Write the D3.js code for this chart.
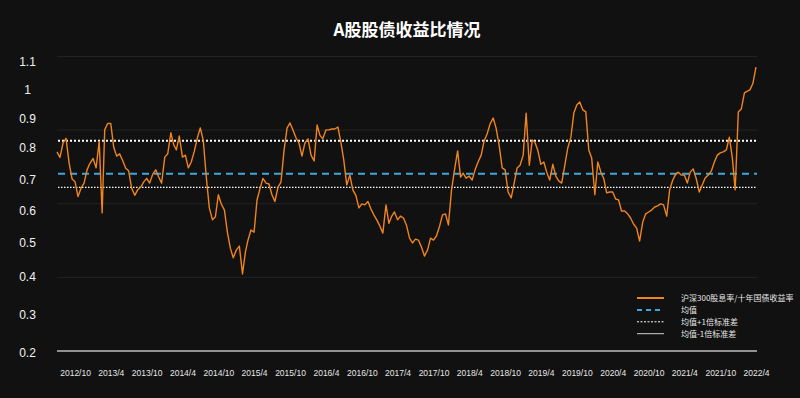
<!DOCTYPE html>
<html lang="zh">
<head>
<meta charset="UTF-8">
<title>A股股债收益比情况</title>
<script src="https://d3js.org/d3.v7.min.js"></script>
<style>
  body { margin: 0; background: #111111; }
  svg { display: block; font-family: "Noto Sans CJK SC", "Noto Sans", sans-serif; }
  .grid line { stroke: #232323; stroke-width: 1; }
  .xaxis text { fill: #e6e6e6; font-size: 8.5px; }
  .yaxis text { fill: #f2f2f2; font-size: 12px; }
  .legend text { fill: #e6e6e6; font-size: 8px; }
</style>
</head>
<body>
<svg id="chart" width="800" height="398"></svg>
<script>
// ---- data (semi-monthly, Jul 2012 .. Apr 2022) ----
const seriesName = "沪深300股息率/十年国债收益率";
const ratio = [
  0.786, 0.769, 0.815, 0.831, 0.751, 0.703, 0.694, 0.646, 0.674, 0.690, 0.731, 0.751,
  0.766, 0.737, 0.820, 0.593, 0.860, 0.882, 0.882, 0.800, 0.773, 0.780, 0.759, 0.736,
  0.728, 0.674, 0.650, 0.668, 0.677, 0.694, 0.705, 0.690, 0.718, 0.731, 0.709, 0.690,
  0.770, 0.780, 0.850, 0.808, 0.792, 0.839, 0.770, 0.776, 0.737, 0.755, 0.789, 0.832,
  0.867, 0.825, 0.706, 0.609, 0.571, 0.581, 0.652, 0.622, 0.602, 0.532, 0.483, 0.455,
  0.478, 0.489, 0.408, 0.472, 0.507, 0.539, 0.532, 0.635, 0.671, 0.705, 0.690, 0.687,
  0.652, 0.630, 0.677, 0.693, 0.792, 0.866, 0.884, 0.860, 0.832, 0.814, 0.773, 0.815,
  0.829, 0.776, 0.758, 0.877, 0.842, 0.829, 0.860, 0.860, 0.863, 0.863, 0.870, 0.818,
  0.761, 0.684, 0.715, 0.668, 0.649, 0.609, 0.622, 0.619, 0.630, 0.606, 0.587, 0.571,
  0.551, 0.529, 0.619, 0.560, 0.581, 0.596, 0.571, 0.583, 0.577, 0.555, 0.513, 0.498,
  0.510, 0.507, 0.486, 0.460, 0.478, 0.513, 0.507, 0.520, 0.551, 0.587, 0.590, 0.555,
  0.668, 0.731, 0.789, 0.709, 0.721, 0.706, 0.712, 0.700, 0.731, 0.755, 0.776, 0.822,
  0.846, 0.880, 0.901, 0.866, 0.804, 0.737, 0.731, 0.661, 0.642, 0.690, 0.737, 0.745,
  0.776, 0.918, 0.745, 0.825, 0.818, 0.792, 0.748, 0.755, 0.724, 0.700, 0.748, 0.712,
  0.697, 0.690, 0.745, 0.798, 0.835, 0.918, 0.946, 0.956, 0.929, 0.922, 0.792, 0.767,
  0.652, 0.755, 0.724, 0.703, 0.658, 0.661, 0.661, 0.638, 0.635, 0.599, 0.599, 0.590,
  0.577, 0.558, 0.545, 0.504, 0.564, 0.590, 0.596, 0.602, 0.612, 0.616, 0.622, 0.619,
  0.583, 0.668, 0.700, 0.718, 0.724, 0.715, 0.715, 0.690, 0.724, 0.734, 0.703, 0.661,
  0.684, 0.706, 0.715, 0.727, 0.755, 0.776, 0.783, 0.786, 0.792, 0.835, 0.770, 0.668,
  0.922, 0.932, 0.988, 0.994, 0.998, 1.021, 1.081
];
const meanValue = 0.719;
const upperValue = 0.823;   // 均值+1倍标准差
const lowerValue = 0.676;   // 均值-1倍标准差

const xTickLabels = ["2012/10", "2013/4", "2013/10", "2014/4", "2014/10", "2015/4", "2015/10",
  "2016/4", "2016/10", "2017/4", "2017/10", "2018/4", "2018/10", "2019/4", "2019/10",
  "2020/4", "2020/10", "2021/4", "2021/10", "2022/4"];
const yTicks = [0.2, 0.3, 0.4, 0.5, 0.6, 0.7, 0.8, 0.9, 1, 1.1];
const legendLabels = [seriesName, "均值", "均值+1倍标准差", "均值-1倍标准差"];

// dates: 1st and 16th of every month
const months = d3.timeMonth.range(new Date(2012, 6, 1), new Date(2022, 3, 2));
const dates = months.flatMap(m => [m, d3.timeDay.offset(m, 15)]).slice(0, ratio.length);
const data = ratio.map((v, i) => ({ date: dates[i], value: v }));

// ---- layout ----
const svg = d3.select("#chart");
const plotLeft = 57, plotRight = 757, plotTop = 56.5, plotBottom = 351;

svg.append("rect").attr("width", 800).attr("height", 398).attr("fill", "#111111");

const x = d3.scaleTime()
  .domain([new Date(2012, 6, 1), new Date(2022, 3, 1)])
  .range([plotLeft, plotRight - 1]);

// the value axis of the original is not evenly spaced
const y = d3.scaleLinear()
  .domain(yTicks)
  .range([352.7, 315, 276.7, 242.3, 210.7, 180, 147.3, 118.3, 89.3, 62]);

// background grid (evenly spaced)
const gridY = d3.scaleLinear().domain([0, 4]).range([plotBottom, plotTop]);
svg.append("g").attr("class", "grid")
  .selectAll("line").data(d3.range(1, 5)).join("line")
  .attr("x1", plotLeft).attr("x2", plotRight)
  .attr("y1", d => gridY(d)).attr("y2", d => gridY(d));

// bottom axis line
svg.append("line")
  .attr("x1", plotLeft).attr("x2", plotRight)
  .attr("y1", plotBottom).attr("y2", plotBottom)
  .attr("stroke", "#bdbdbd").attr("stroke-width", 1.5);

// title
svg.append("text")
  .attr("x", (plotLeft + plotRight) / 2).attr("y", 36)
  .attr("text-anchor", "middle")
  .attr("fill", "#ffffff")
  .attr("font-size", 17).attr("font-weight", "bold")
  .text("A股股债收益比情况");

// x axis
const parseTick = d3.timeParse("%Y/%m");
const xAxis = d3.axisBottom(x)
  .tickValues(xTickLabels.map(parseTick))
  .tickFormat((d, i) => xTickLabels[i])
  .tickSize(0).tickPadding(0);
svg.append("g").attr("class", "xaxis")
  .attr("transform", `translate(0,${plotBottom + 19})`)
  .call(xAxis)
  .call(g => g.select(".domain").remove());

// y axis
const yAxis = d3.axisLeft(y)
  .tickValues(yTicks)
  .tickFormat(d3.format("~g"))
  .tickSize(0);
svg.append("g").attr("class", "yaxis")
  .attr("transform", `translate(${plotLeft},0)`)
  .call(yAxis)
  .call(g => g.select(".domain").remove())
  .call(g => g.selectAll("text").attr("text-anchor", "middle").attr("x", -29.5));

// reference lines
const refs = [
  { v: upperValue, color: "#ffffff", width: 2, dash: "2,2" },
  { v: meanValue, color: "#3fa6dc", width: 2, dash: "7,5" },
  { v: lowerValue, color: "#ffffff", width: 1.2, dash: "1.5,1.5" }
];
svg.append("g").selectAll("line").data(refs).join("line")
  .attr("x1", plotLeft + 1).attr("x2", plotRight)
  .attr("y1", d => y(d.v)).attr("y2", d => y(d.v))
  .attr("stroke", d => d.color)
  .attr("stroke-width", d => d.width)
  .attr("stroke-dasharray", d => d.dash);

// main series
const line = d3.line().x(d => x(d.date)).y(d => y(d.value));
svg.append("path")
  .datum(data)
  .attr("fill", "none")
  .attr("stroke", "#f0841e")
  .attr("stroke-width", 1.4)
  .attr("stroke-linejoin", "round")
  .attr("d", line);

// legend
const legendStyles = [
  { color: "#f0841e", width: 2, dash: null },
  { color: "#3fa6dc", width: 2, dash: "5,4" },
  { color: "#ffffff", width: 1, dash: "2,1.5" },
  { color: "#cfcfcf", width: 1, dash: null }
];
const legend = svg.append("g").attr("class", "legend")
  .attr("transform", "translate(637,298)");
const items = legend.selectAll("g").data(legendLabels).join("g")
  .attr("transform", (d, i) => `translate(0,${i * 11.9})`);
items.append("line")
  .attr("x1", 0).attr("x2", 27)
  .attr("stroke", (d, i) => legendStyles[i].color)
  .attr("stroke-width", (d, i) => legendStyles[i].width)
  .attr("stroke-dasharray", (d, i) => legendStyles[i].dash);
items.append("text")
  .attr("x", 44).attr("dy", "0.35em")
  .text(d => d);
</script>
</body>
</html>
